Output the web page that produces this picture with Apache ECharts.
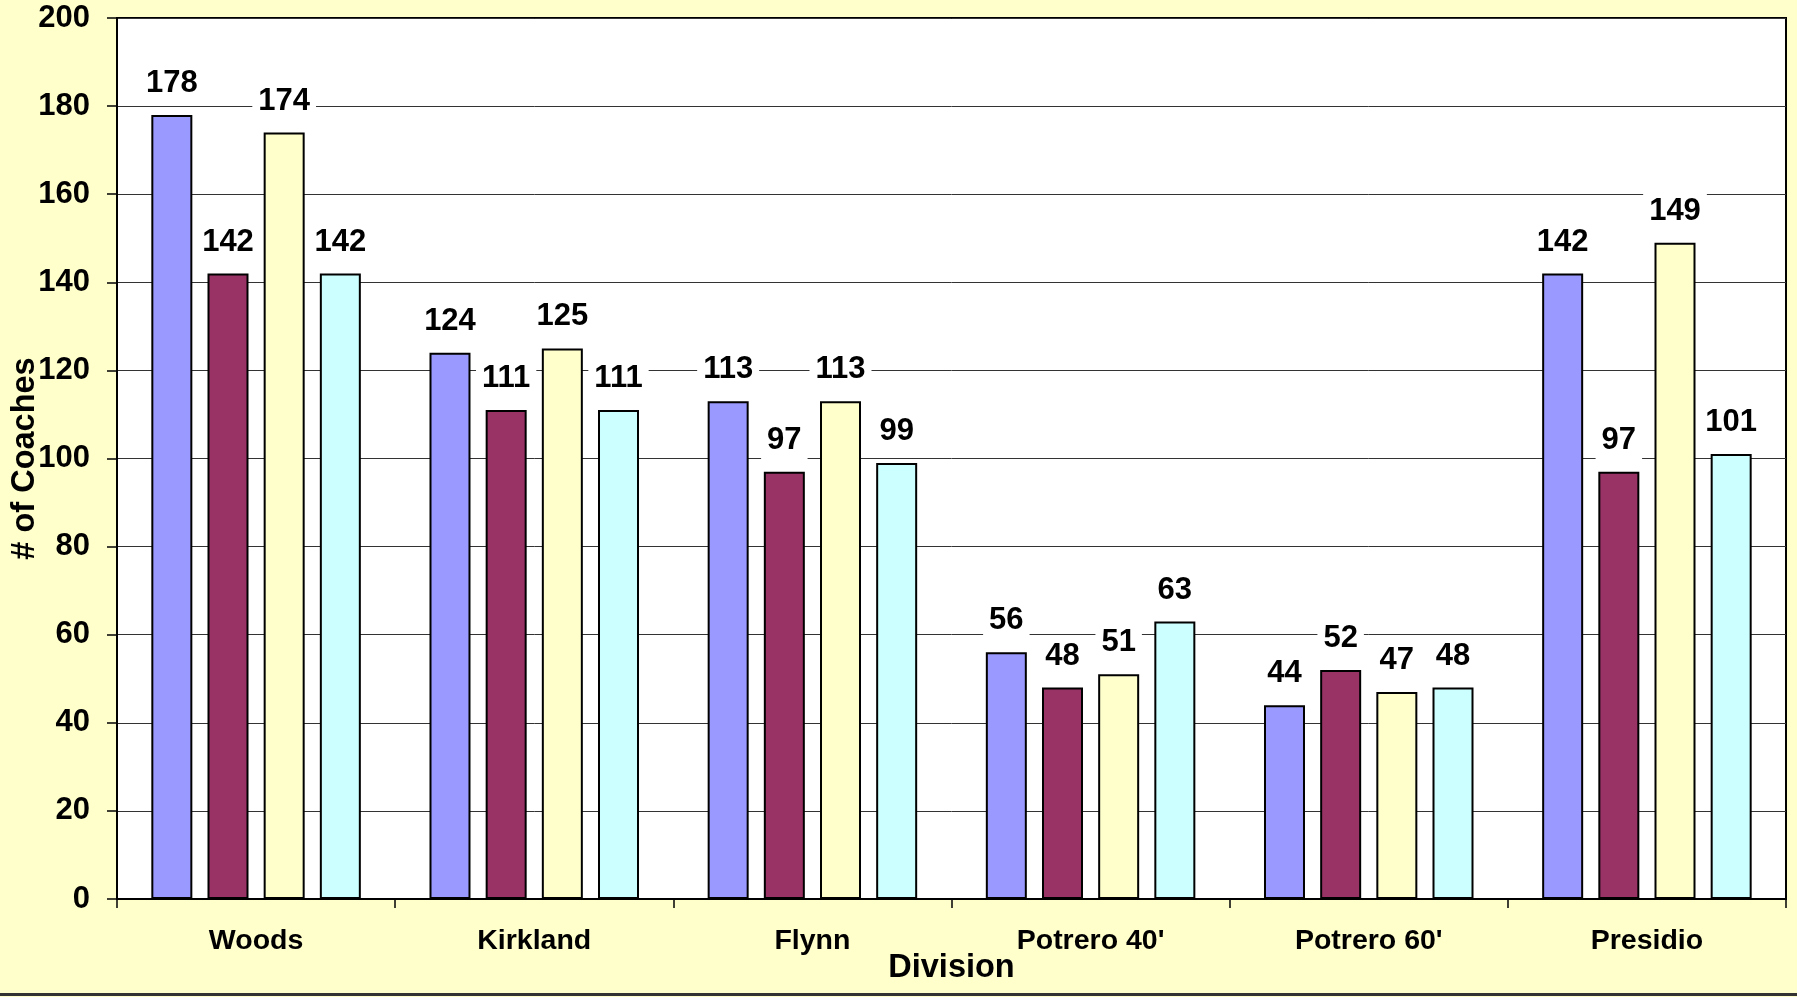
<!DOCTYPE html>
<html>
<head>
<meta charset="utf-8">
<script src="https://cdn.jsdelivr.net/npm/echarts@6/dist/echarts.min.js"></script>
<style>
html,body{margin:0;padding:0;background:#FFFFCC;}
#chart{width:1797px;height:997px;}
</style>
</head>
<body>
<div id="chart"></div>
<script>
const categories = ["Woods", "Kirkland", "Flynn", "Potrero 40'", "Potrero 60'", "Presidio"];
const series1 = [178, 124, 113, 56, 44, 142];
const series2 = [142, 111, 97, 48, 52, 97];
const series3 = [174, 125, 113, 51, 47, 149];
const series4 = [142, 111, 99, 63, 48, 101];
const seriesNames = ["Series 1", "Series 2", "Series 3", "Series 4"];
const colors = ["#9999FF", "#993366", "#FFFFCC", "#CCFFFF"];
const yTicks = {min: 0, max: 200, interval: 20};

const FONT = "Liberation Sans, Arial, sans-serif";
const chart = echarts.init(document.getElementById('chart'), null, {renderer: 'canvas'});

function mk(name, data, color) {
  return {
    name: name,
    type: 'bar',
    data: data,
    barWidth: 41,
    barGap: '37%',
    itemStyle: {color: color, borderColor: '#000', borderWidth: 2},
    label: {
      show: true,
      position: 'top',
      distance: 12,
      color: '#000',
      fontFamily: FONT,
      fontWeight: 'bold',
      fontSize: 31,
      backgroundColor: '#fff',
      padding: [4, 6, 4, 6]
    }
  };
}

chart.setOption({
  backgroundColor: '#FFFFCC',
  animation: false,
  grid: {
    left: 117, top: 18, right: 11, bottom: 98,
    containLabel: false, outerBoundsMode: 'none',
    show: true, backgroundColor: '#fff', borderColor: '#000', borderWidth: 2
  },
  xAxis: {
    type: 'category',
    data: categories,
    name: 'Division',
    nameLocation: 'middle',
    nameGap: 53,
    nameMoveOverlap: false,
    nameTextStyle: {color: '#000', fontFamily: FONT, fontWeight: 'bold', fontSize: 32.5},
    axisLine: {lineStyle: {color: '#000', width: 2}},
    axisTick: {show: true, length: 9, lineStyle: {color: '#000', width: 1.5}},
    axisLabel: {color: '#000', fontFamily: FONT, fontWeight: 'bold', fontSize: 28.5, margin: 28},
    splitLine: {show: false}
  },
  yAxis: {
    type: 'value',
    min: yTicks.min, max: yTicks.max, interval: yTicks.interval,
    name: '# of Coaches',
    nameLocation: 'middle',
    nameGap: 75,
    nameMoveOverlap: false,
    nameTextStyle: {color: '#000', fontFamily: FONT, fontWeight: 'bold', fontSize: 32.5},
    axisLine: {show: true, lineStyle: {color: '#000', width: 2}},
    axisTick: {show: true, length: 10, lineStyle: {color: '#000', width: 1.5}},
    axisLabel: {color: '#000', fontFamily: FONT, fontWeight: 'bold', fontSize: 31, margin: 27},
    splitLine: {show: true, lineStyle: {color: '#333', width: 1}}
  },
  legend: {show: false},
  series: [
    mk(seriesNames[0], series1, colors[0]),
    mk(seriesNames[1], series2, colors[1]),
    mk(seriesNames[2], series3, colors[2]),
    mk(seriesNames[3], series4, colors[3])
  ],
  graphic: [{
    type: 'rect',
    shape: {x: 0, y: 993, width: 1797, height: 3},
    style: {fill: '#333'},
    silent: true
  }]
});
</script>
</body>
</html>
